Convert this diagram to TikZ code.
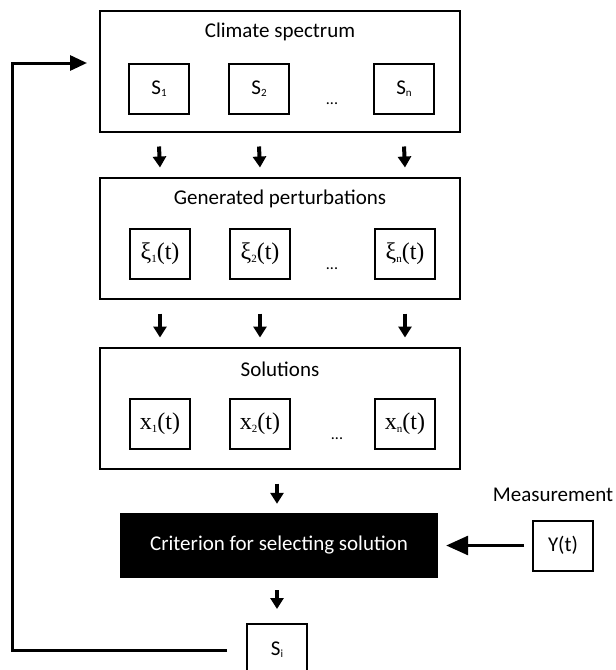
\documentclass[tikz,border=0pt]{standalone}
\usepackage{fontspec}
\setmainfont{Carlito}
\newfontfamily\seriffont{Liberation Serif}
\usetikzlibrary{arrows.meta,calc}

% small lowered index, as in S1 or x1(t)
\newcommand{\lowsub}[1]{\raisebox{-0.1em}{\fontsize{11}{11}\selectfont #1}}

\begin{document}
\begin{tikzpicture}[x=1pt,y=-1pt]
		% Define styles for the boxes and the arrows
		\tikzset{
			group/.style={draw, line width=2pt, minimum width=360pt, minimum height=121pt, inner sep=0pt},
			cell/.style={draw, line width=2pt, minimum width=60pt, minimum height=50pt, inner sep=0pt, font=\fontsize{21}{21}\selectfont},
			sercell/.style={cell, font=\seriffont\fontsize{24}{24}\selectfont},
			label/.style={font=\fontsize{21}{21}\selectfont},
			dots/.style={font=\fontsize{16}{16}\selectfont},
			down/.style={line width=4pt, -{Triangle[width=13pt,length=11pt]}},
			back/.style={line width=3pt, line join=miter, -{Triangle[width=15pt,length=17pt]}}
		}
		\useasboundingbox (0,0) rectangle (616,670);
		
		% Draw the climate spectrum block
		\node[group] (climate) at (280,71) {};
		\node[label] (climatetitle) at (280,32) {Climate spectrum};
		\node[cell] (s1) at (159,89) {S\lowsub{1}};
		\node[cell] (s2) at (259,89) {S\lowsub{2}};
		\node[cell] (sn) at (404,89) {S\lowsub{n}};
		\node[dots] (sdots) at (332,104) {...};
		
		% Draw the generated perturbations block
		\node[group] (perturb) at (280,238) {};
		\node[label] (perturbtitle) at (280,199) {Generated perturbations};
		\node[sercell] (xi1) at (160,254) {ξ\lowsub{1}(t)};
		\node[sercell] (xi2) at (260,254) {ξ\lowsub{2}(t)};
		\node[sercell] (xin) at (405,254) {ξ\lowsub{n}(t)};
		\node[dots] (xidots) at (332,269) {...};
		
		% Draw the solutions block
		\node[group] (solution) at (280,408) {};
		\node[label] (solutiontitle) at (280,369) {Solutions};
		\node[sercell] (x1) at (160,424) {x\lowsub{1}(t)};
		\node[sercell] (x2) at (260,424) {x\lowsub{2}(t)};
		\node[sercell] (xn) at (405,424) {x\lowsub{n}(t)};
		\node[dots] (xdots) at (337,439) {...};
		
		% Draw the selection criterion and the measurement
		\node[fill=black, text=white, label, minimum width=318pt, minimum height=65pt] (criterion) at (279,545.5) {Criterion for selecting solution};
		\node[cell] (meas) at (563,545.5) {Y(t)};
		\node[label] (meastitle) at (553,495) {Measurement};
		\node[cell, minimum height=52pt] (si) at (277,650) {S\lowsub{i}};
		
		% Draw the arrows between the blocks
		\draw[down] ([yshift=-14pt]climate.south -| s1) -- ([yshift=9pt]perturb.north -| xi1);
		\draw[down] ([yshift=-14pt]climate.south -| s2) -- ([yshift=9pt]perturb.north -| xi2);
		\draw[down] ([yshift=-14pt]climate.south -| sn) -- ([yshift=9pt]perturb.north -| xin);
		\draw[down] ([yshift=-14pt]perturb.south -| xi1) -- ([yshift=9pt]solution.north -| x1);
		\draw[down] ([yshift=-14pt]perturb.south -| xi2) -- ([yshift=9pt]solution.north -| x2);
		\draw[down] ([yshift=-14pt]perturb.south -| xin) -- ([yshift=9pt]solution.north -| xn);
		\draw[down] ([yshift=-14pt]solution.south -| si) -- ([yshift=9pt]criterion.north -| si);
		\draw[down] ([yshift=-12pt]criterion.south -| si) -- ([yshift=14pt]si.north);
		\draw[line width=3pt, -{Triangle[width=19pt,length=22pt]}] ([xshift=-8pt]meas.west) -- ([xshift=8pt]criterion.east);
		
		% Draw the feedback line back to the spectrum
		\coordinate (bend) at (12,651);
		\draw[back] ([xshift=-19pt]si.west) -- (si.west -| bend) |- ($(climate.west |- s1.north) + (-12,0)$);
	\end{tikzpicture}
\end{document}
